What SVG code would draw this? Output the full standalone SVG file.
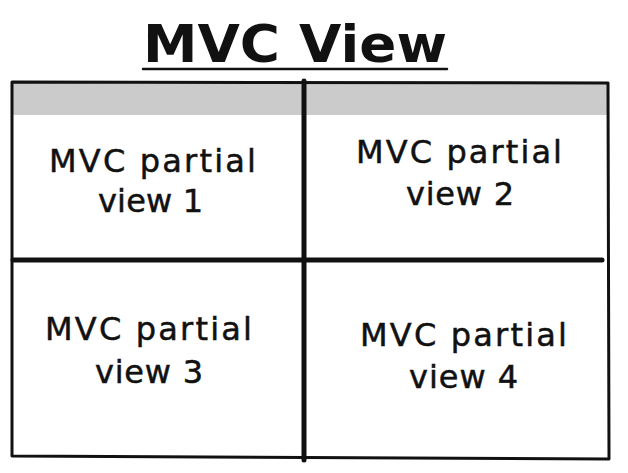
<svg xmlns="http://www.w3.org/2000/svg" width="628" height="473" viewBox="0 0 628 473">
<style>
.lbl{font-family:"DejaVu Sans","Open Sans",sans-serif;font-size:32px;fill:#111;stroke:#111;stroke-width:0.5;}
.title{font-family:"DejaVu Sans","Open Sans",sans-serif;font-size:51px;font-weight:bold;fill:#111;}
.line{stroke:#111;fill:none;stroke-linecap:round;stroke-linejoin:round;}
</style>
<rect width="628" height="473" fill="#fff"/>
<g id="title">
<text class="title" x="143" y="62" textLength="304" lengthAdjust="spacingAndGlyphs">MVC View</text>
<line class="line" x1="143" y1="69" x2="447" y2="69" stroke-width="2.5"/>
</g>
<g id="frame">
<rect x="12" y="83" width="596" height="32" fill="#cbcbcb"/>
<path class="line" d="M12 82 L608 83 L609 459 L12 456 Z" stroke-width="3"/>
</g>
<g id="connectors">
<line class="line" x1="304" y1="81" x2="304" y2="460" stroke-width="5"/>
<line class="line" x1="13" y1="260" x2="602" y2="260" stroke-width="5"/>
</g>
<g id="cell1">
<text class="lbl" x="49" y="172" textLength="207" lengthAdjust="spacing">MVC partial</text>
<text class="lbl" x="98" y="212" textLength="105" lengthAdjust="spacing">view 1</text>
</g>
<g id="cell2">
<text class="lbl" x="356" y="163" textLength="206" lengthAdjust="spacing">MVC partial</text>
<text class="lbl" x="406" y="205" textLength="108" lengthAdjust="spacing">view 2</text>
</g>
<g id="cell3">
<text class="lbl" x="45" y="340" textLength="207" lengthAdjust="spacing">MVC partial</text>
<text class="lbl" x="95" y="383" textLength="108" lengthAdjust="spacing">view 3</text>
</g>
<g id="cell4">
<text class="lbl" x="360" y="346" textLength="207" lengthAdjust="spacing">MVC partial</text>
<text class="lbl" x="409" y="388" textLength="109" lengthAdjust="spacing">view 4</text>
</g>
</svg>
